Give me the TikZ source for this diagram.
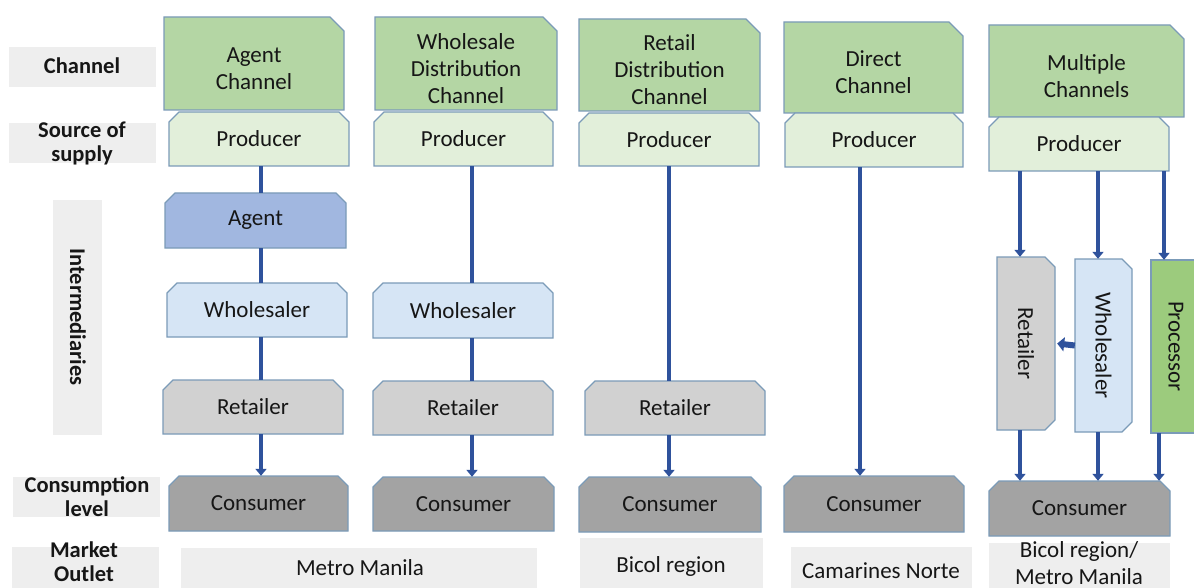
\documentclass[tikz,border=0pt]{standalone}
\usepackage{fontspec}
\setmainfont{Carlito}
\usepackage{graphicx}
\usetikzlibrary{arrows.meta}
\definecolor{chan}{HTML}{B4D6A4}
\definecolor{prod}{HTML}{E2EFDA}
\definecolor{agt}{HTML}{A1B7E0}
\definecolor{whs}{HTML}{D6E5F5}
\definecolor{ret}{HTML}{D1D1D1}
\definecolor{cons}{HTML}{A3A3A3}
\definecolor{proc}{HTML}{9CCB7D}
\definecolor{lblbg}{HTML}{EEEEEE}
\definecolor{bord}{HTML}{7B9BB8}
\definecolor{lnc}{HTML}{2F529C}
\definecolor{ink}{HTML}{161616}
\tikzset{
 bx/.style={draw=bord, line width=1.2pt, line join=miter},
 txt/.style={font=\fontsize{23}{27}\selectfont, text=ink, align=center, inner sep=0pt},
 lbl/.style={font=\fontsize{22.5}{24}\selectfont\bfseries, text=ink, align=center, inner sep=0pt},
 lblbox/.style={fill=lblbg},
 ln/.style={draw=lnc, line width=4.5pt},
 arr/.style={ln, -{Triangle[width=11pt,length=7pt]}},
 fat/.style={draw=lnc, line width=6pt, -{Triangle[width=14pt,length=7pt]}},
}
\newcommand\chanbox[6]{%
  \path[bx,fill=chan] (#2,#3) -- ({#4-14},#3) -- (#4,{#3+14}) -- (#4,#5) -- (#2,#5) -- cycle;
  \node[txt] (#1) at ({(#2+#4)/2},{(#3+#5)/2+5}) {#6};}
\newcommand\topsnip[7]{%
  \path[bx,fill=#2] (#3,{#4+10}) -- ({#3+10},#4) -- ({#5-10},#4) -- (#5,{#4+10}) -- (#5,#6) -- (#3,#6) -- cycle;
  \node[txt, minimum width={#5-#3}, minimum height={#6-#4}] (#1) at ({(#3+#5)/2},{(#4+#6)/2}) {#7};}
\newcommand\sidesnip[7]{%
  \path[bx,fill=#2] (#3,#4) -- ({#5-10},#4) -- (#5,{#4+10}) -- (#5,{#6-10}) -- ({#5-10},#6) -- (#3,#6) -- cycle;
  \node[txt, minimum width={#5-#3}, minimum height={#6-#4}] (#1) at ({(#3+#5)/2},{(#4+#6)/2}) {\rotatebox{-90}{#7}};}
\begin{document}
\begin{tikzpicture}[x=1pt,y=-1pt]
\clip (0,0) rectangle (1194,588);
\fill[white] (0,0) rectangle (1194,588);
% row labels
\fill[lblbox] (9,47) rectangle (156,87); \node[lbl] (Lchan) at (82,66) {Channel};
\fill[lblbox] (9,123) rectangle (156,163); \node[lbl] (Lsrc) at (82,143) {Source of\\supply};
\fill[lblbox] (53,200) rectangle (102,435); \node[lbl] (Lint) at (78,317) {\rotatebox{-90}{Intermediaries}};
\fill[lblbox] (13,477) rectangle (160,517); \node[lbl] (Lcons) at (87,497) {Consumption\\level};
\fill[lblbox] (12,547) rectangle (159,600); \node[lbl] (Lmkt) at (84,562) {Market\\Outlet};
% outlets
\fill[lblbox] (181,548) rectangle (537,600); \node[txt] (o1) at (360,568) {Metro Manila};
\fill[lblbox] (580,538) rectangle (763,600); \node[txt] (o2) at (671,566) {Bicol region};
\fill[lblbox] (791,547) rectangle (972,600); \node[txt] (o3) at (881,571) {Camarines Norte};
\fill[lblbox] (989,543) rectangle (1170,600); \node[txt] (o4) at (1079,563) {Bicol region/\\Metro Manila};
% column 1
\chanbox{ch1}{164}{17}{344}{110}{Agent\\Channel}
\topsnip{p1}{prod}{169}{112}{349}{166}{Producer}
\topsnip{a1}{agt}{165}{193}{346}{248}{Agent}
\topsnip{w1}{whs}{167}{283}{347}{337}{Wholesaler}
\topsnip{r1}{ret}{163}{380}{343}{434}{Retailer}
\topsnip{c1}{cons}{169}{476}{348}{531}{Consumer}
% column 2
\chanbox{ch2}{375}{17}{557}{110}{Wholesale\\Distribution\\Channel}
\topsnip{p2}{prod}{374}{112}{553}{166}{Producer}
\topsnip{w2}{whs}{373}{283}{553}{338}{Wholesaler}
\topsnip{r2}{ret}{373}{381}{553}{435}{Retailer}
\topsnip{c2}{cons}{373}{477}{554}{531}{Consumer}
% column 3
\chanbox{ch3}{579}{19}{760}{111}{Retail\\Distribution\\Channel}
\topsnip{p3}{prod}{579}{113}{759}{166}{Producer}
\topsnip{r3}{ret}{585}{381}{765}{435}{Retailer}
\topsnip{c3}{cons}{579}{477}{761}{532}{Consumer}
% column 4
\chanbox{ch4}{784}{22}{963}{113}{Direct\\Channel}
\topsnip{p4}{prod}{785}{113}{963}{167}{Producer}
\topsnip{c4}{cons}{784}{476}{964}{532}{Consumer}
% column 5
\chanbox{ch5}{989}{25}{1184}{117}{Multiple\\Channels}
\topsnip{p5}{prod}{989}{117}{1169}{171}{Producer}
\sidesnip{r5}{ret}{997}{257}{1055}{430}{Retailer}
\sidesnip{w5}{whs}{1075}{259}{1132}{432}{Wholesaler}
\path[bx,fill=proc] (1151,260) rectangle (1220,433);
\node[txt, minimum width=50, minimum height=173] (pr5) at (1176,346.5) {\rotatebox{-90}{Processor}};
\topsnip{c5}{cons}{989}{481}{1170}{536}{Consumer}
% connector columns
\coordinate (x1) at (261,0);
\coordinate (x2) at (472,0);
\coordinate (x3) at (669,0);
\coordinate (x4) at (860,0);
\coordinate (x5a) at (1020,0);
\coordinate (x5b) at (1098,0);
\coordinate (x5c) at (1164,0);
\coordinate (x5d) at (1159,0);
% connectors
\draw[ln] (p1.south -| x1) -- (a1.north -| x1);
\draw[ln] (a1.south -| x1) -- (w1.north -| x1);
\draw[ln] (w1.south -| x1) -- (r1.north -| x1);
\draw[arr] (r1.south -| x1) -- (c1.north -| x1);
\draw[ln] (p2.south -| x2) -- (w2.north -| x2);
\draw[ln] (w2.south -| x2) -- (r2.north -| x2);
\draw[arr] (r2.south -| x2) -- (c2.north -| x2);
\draw[ln] (p3.south -| x3) -- (r3.north -| x3);
\draw[arr] (r3.south -| x3) -- (c3.north -| x3);
\draw[arr] (p4.south -| x4) -- (c4.north -| x4);
\draw[arr] (p5.south -| x5a) -- (r5.north -| x5a);
\draw[arr] (p5.south -| x5b) -- (w5.north -| x5b);
\draw[arr] (p5.south -| x5c) -- (pr5.north -| x5c);
\draw[arr] (r5.south -| x5a) -- (c5.north -| x5a);
\draw[arr] (w5.south -| x5b) -- (c5.north -| x5b);
\draw[arr] (pr5.south -| x5d) -- (c5.north -| x5d);
\draw[fat] (w5.west) -- ([xshift=2pt]r5.east);
\end{tikzpicture}
\end{document}
